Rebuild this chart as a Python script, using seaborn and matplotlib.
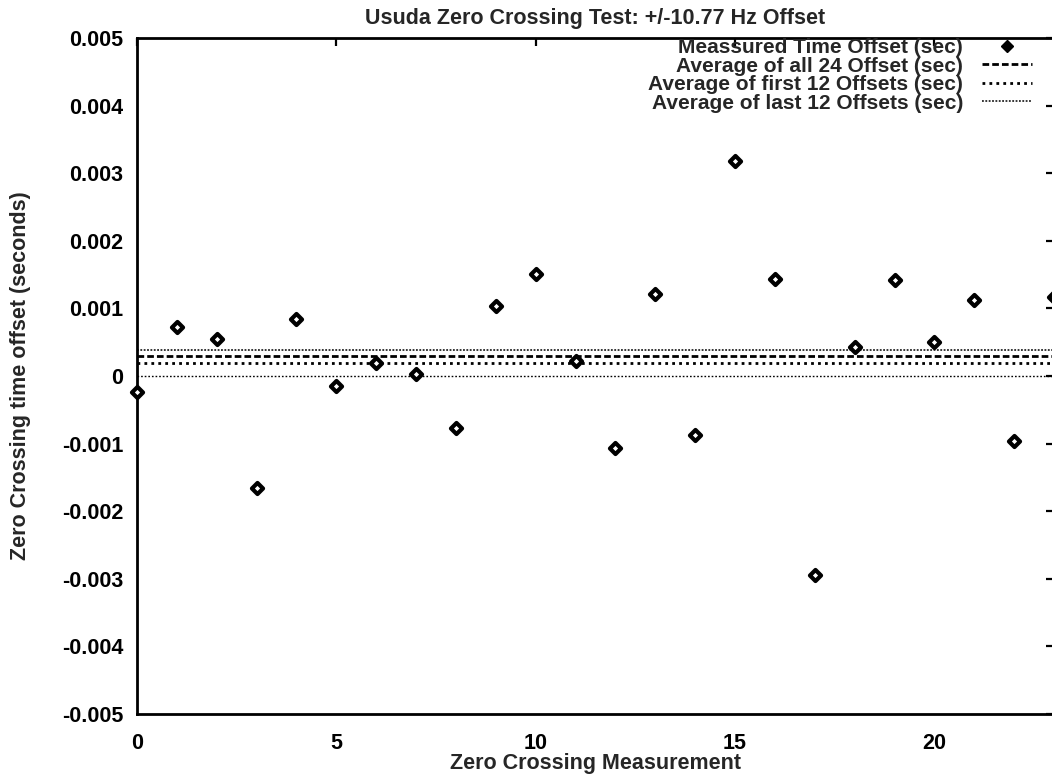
import numpy as np
import matplotlib
matplotlib.use("Agg")
import matplotlib.pyplot as plt
from matplotlib.lines import Line2D
import seaborn as sns

# ---- data ----
measurement = list(range(24))
time_offset = [-0.00023, 0.00073, 0.00055, -0.00165, 0.00084, -0.00015,
               0.00019, 0.00003, -0.00077, 0.00103, 0.00151, 0.00022,
               -0.00106, 0.00121, -0.00088, 0.00318, 0.00143, -0.00294,
               0.00043, 0.00142, 0.00051, 0.00113, -0.00096, 0.00117]
xticks = [0, 5, 10, 15, 20]
yticks = [-0.005, -0.004, -0.003, -0.002, -0.001, 0, 0.001, 0.002, 0.003, 0.004, 0.005]
ytick_labels = ["-0.005", "-0.004", "-0.003", "-0.002", "-0.001", "0",
                "0.001", "0.002", "0.003", "0.004", "0.005"]
legend_labels = ["Meassured Time Offset (sec)",
                 "Average of all 24 Offset (sec)",
                 "Average of first 12 Offsets (sec)",
                 "Average of last 12 Offsets (sec)"]
title = "Usuda Zero Crossing Test: +/-10.77 Hz Offset"
xlabel = "Zero Crossing Measurement"
ylabel = "Zero Crossing time offset (seconds)"

avg_all = float(np.mean(time_offset))
avg_first = float(np.mean(time_offset[:12]))
avg_last = float(np.mean(time_offset[12:]))

sns.set_theme(style="white")
plt.rcParams["font.family"] = ["Liberation Sans", "DejaVu Sans"]
plt.rcParams["font.weight"] = "bold"

fig = plt.figure(figsize=(10.52, 7.74), dpi=100)
W, H = 1052, 774
ax = fig.add_axes([137 / W, 1 - 714 / H, (1054 - 137) / W, (714 - 38) / H])

fs = 15.5
lfs = 15.0

# zero axis (fine dotted)
ax.axhline(0, color="black", lw=1.0, ls=(0, (1.2, 1.4)), zorder=1)
# averages
ax.axhline(avg_all, color="black", lw=2.0, ls=(0, (2.4, 1.1)), zorder=2)
ax.axhline(avg_first, color="black", lw=2.0, ls=(0, (1.0, 1.5)), zorder=2)
ax.axhline(avg_last, color="black", lw=1.1, ls=(0, (1.2, 1.0)), zorder=2)

sns.scatterplot(x=measurement, y=time_offset, ax=ax, marker="D", s=32,
                color="white", edgecolor="black", linewidth=3.0, zorder=3,
                clip_on=False, legend=False)

ax.set_xlim(0, 23)
ax.set_ylim(-0.005, 0.005)
ax.set_xticks(xticks)
ax.set_xticklabels([str(t) for t in xticks])
ax.set_yticks(yticks)
ax.set_yticklabels(ytick_labels)
ax.tick_params(axis="both", which="major", direction="in", length=6, width=1.6,
               top=True, right=True, labelsize=fs, colors="black")
ax.tick_params(axis="x", pad=14)
ax.tick_params(axis="y", pad=10)
for sp in ax.spines.values():
    sp.set_linewidth(2.0)
    sp.set_color("black")

ax.set_title(title, fontsize=fs, fontweight="bold", pad=10)
ax.set_xlabel(xlabel, fontsize=fs, fontweight="bold", labelpad=-1)
ax.set_ylabel(ylabel, fontsize=fs, fontweight="bold", labelpad=22)

handles = [
    Line2D([], [], marker="D", color="black", ls="none", ms=6),
    Line2D([], [], color="black", lw=2.0, ls=(0, (2.4, 1.1))),
    Line2D([], [], color="black", lw=2.0, ls=(0, (1.0, 1.5))),
    Line2D([], [], color="black", lw=1.1, ls=(0, (1.2, 1.0))),
]
leg = ax.legend(handles, legend_labels, loc="upper right",
                bbox_to_anchor=((1030 - 137) / (1054 - 137) + 0.002, 1.0),
                borderaxespad=0, borderpad=0, frameon=False, markerfirst=False,
                handlelength=2.4, handletextpad=0.9, labelspacing=-0.02,
                numpoints=1, prop={"size": lfs, "weight": "bold"})

fig.savefig("out.png", dpi=100)
